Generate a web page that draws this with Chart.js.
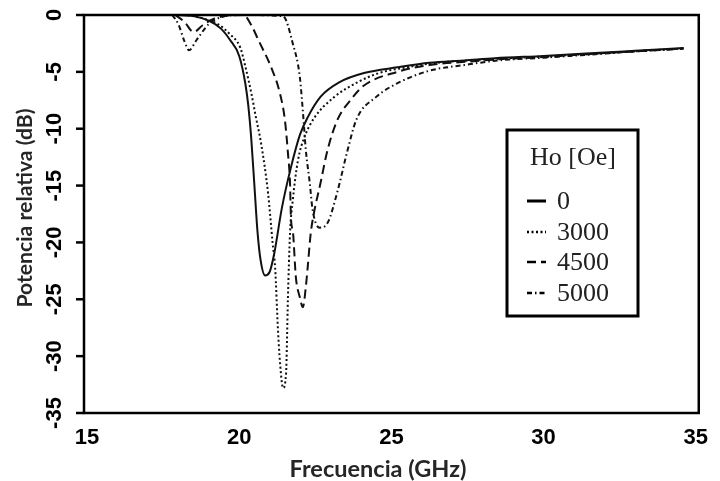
<!DOCTYPE html>
<html>
<head>
<meta charset="utf-8">
<script src="https://cdn.jsdelivr.net/npm/chart.js@4/dist/chart.umd.min.js"></script>
<style>
  html, body { margin: 0; padding: 0; background: #fff; }
  #wrap { width: 720px; height: 481px; }
</style>
</head>
<body>
<div id="wrap"><canvas id="chart" width="720" height="481"></canvas></div>
<script>
// data
const xTicks = [15, 20, 25, 30, 35]
const yTicks = [0, -5, -10, -15, -20, -25, -30, -35]
const seriesNames = ['0', '3000', '4500', '5000']
const legendTitle = 'Ho [Oe]'

const freq0 = [17.9, 18.5, 19.0, 19.4, 19.7, 20.0, 20.2, 20.3, 20.4, 20.5, 20.6, 20.7, 20.85, 21.0, 21.15, 21.4, 21.7, 22.0, 22.25, 22.67, 23.3, 24.1, 25.2, 26.25, 27.4, 28.4, 30, 31.7, 33, 34.6]
const pot0 = [0, -0.1, -0.5, -1.2, -2.2, -3.6, -6, -8, -11, -15, -19, -21.5, -22.9, -22.6, -21, -17, -13.4, -10.5, -9.0, -7.2, -5.9, -5.1, -4.6, -4.2, -4.0, -3.8, -3.6, -3.35, -3.15, -2.9]

const freq3000 = [18.3, 18.8, 19.3, 19.7, 20.04, 20.2, 20.4, 20.55, 20.72, 20.95, 21.1, 21.18, 21.28, 21.37, 21.44, 21.54, 21.6, 21.67, 21.76, 21.93, 22.15, 22.48, 23.13, 23.9, 24.6, 25.5, 26.5, 27.5, 28.5, 30, 31.7, 33, 34.6]
const pot3000 = [0, -0.3, -0.8, -1.7, -2.9, -4.5, -6.9, -9, -11.3, -15.7, -20.1, -22.2, -28, -31.5, -32.8, -31.5, -25, -19.2, -16.3, -12.8, -10.7, -9.0, -7.2, -5.9, -5.1, -4.6, -4.2, -4.0, -3.85, -3.65, -3.4, -3.2, -2.95]

const freq4500 = [17.9, 18.2, 18.5, 18.8, 19.2, 20.14, 20.4, 20.63, 21.05, 21.34, 21.5, 21.6, 21.67, 21.7, 21.77, 21.86, 21.99, 22.09, 22.19, 22.25, 22.35, 22.45, 22.67, 22.9, 23.23, 23.65, 24.1, 25.2, 26.25, 27.5, 28.5, 30, 31.7, 33, 34.6]
const pot4500 = [0, -0.6, -1.5, -0.9, -0.3, 0, -0.9, -2.2, -4.6, -6.9, -9.2, -12.1, -14.8, -17.8, -19.2, -23, -24.8, -25.7, -23.9, -22.2, -19.2, -17.5, -14.8, -11.9, -9.2, -7.5, -6.2, -5.0, -4.4, -4.1, -3.9, -3.7, -3.4, -3.2, -2.95]

const freq5000 = [17.8, 18.0, 18.2, 18.35, 18.6, 19.0, 19.4, 20.0, 21.44, 21.76, 21.99, 22.09, 22.19, 22.32, 22.41, 22.64, 22.9, 23.23, 23.55, 23.85, 24.5, 25.2, 26.25, 27.4, 28.5, 30, 31.7, 33, 34.6]
const pot5000 = [0, -0.8, -2.3, -3.1, -2.2, -0.8, -0.2, 0, -0.1, -2.5, -5.4, -8.4, -11.9, -14.8, -17.1, -18.7, -18.3, -15.5, -12, -9.2, -7.2, -6.0, -4.9, -4.4, -4.0, -3.75, -3.45, -3.2, -2.95]

const dashes = [[], [2, 2.5], [9, 5], [5, 3, 1.5, 3]]

const toPoints = (xs, ys) => xs.map((x, i) => ({ x: x, y: ys[i] }))

const makeSet = (name, xs, ys, dash) => ({
    label: name,
    data: toPoints(xs, ys),
    borderColor: '#111',
    borderWidth: 2,
    borderDash: dash,
    pointRadius: 0,
    fill: false,
    cubicInterpolationMode: 'monotone'
})

const datasets = [
    makeSet(seriesNames[0], freq0, pot0, dashes[0]),
    makeSet(seriesNames[1], freq3000, pot3000, dashes[1]),
    makeSet(seriesNames[2], freq4500, pot4500, dashes[2]),
    makeSet(seriesNames[3], freq5000, pot5000, dashes[3])
]

// pick a font size so the text spans about `width` pixels
const fitFont = (ctx, text, width, family) => {
    ctx.font = `bold 20px ${family}`
    const size = 20 * width / ctx.measureText(text).width
    ctx.font = `bold ${size.toFixed(1)}px ${family}`
}

// frame, rotated y labels, axis titles and the boxed legend
const extras = {
    id: 'extras',
    afterDraw(chart) {
        const ctx = chart.ctx
        const ys = chart.scales.y
        const area = chart.chartArea
        ctx.save()
        ctx.setLineDash([])
        ctx.strokeStyle = '#000'
        ctx.lineWidth = 2.5
        ctx.strokeRect(area.left - 3, area.top, area.right - area.left + 6, area.bottom - area.top)

        // y tick marks and labels, read bottom to top
        ctx.fillStyle = '#000'
        ctx.font = 'bold 22px "Liberation Sans"'
        ctx.textAlign = 'center'
        ctx.textBaseline = 'middle'
        yTicks.forEach(v => {
            const py = ys.getPixelForValue(v)
            ctx.beginPath()
            ctx.moveTo(area.left - 11, py)
            ctx.lineTo(area.left - 3, py)
            ctx.stroke()
            ctx.save()
            ctx.translate(54, py)
            ctx.rotate(-Math.PI / 2)
            ctx.fillText(String(v), 0, 1)
            ctx.restore()
        })

        // axis titles
        ctx.fillStyle = '#262626'
        ctx.textBaseline = 'alphabetic'
        fitFont(ctx, 'Frecuencia (GHz)', 177, 'Lato')
        ctx.fillText('Frecuencia (GHz)', 378, 477)
        ctx.save()
        ctx.translate(32, 208)
        ctx.rotate(-Math.PI / 2)
        fitFont(ctx, 'Potencia relativa (dB)', 199, 'Lato')
        ctx.fillText('Potencia relativa (dB)', 0, 0)
        ctx.restore()

        // legend box
        ctx.fillStyle = '#fff'
        ctx.fillRect(507, 130, 131, 186)
        ctx.lineWidth = 3
        ctx.strokeStyle = '#000'
        ctx.strokeRect(507, 130, 131, 186)
        ctx.fillStyle = '#222'
        ctx.font = '26px "Liberation Serif"'
        ctx.textAlign = 'left'
        ctx.textBaseline = 'middle'
        ctx.fillText(legendTitle, 530, 158)
        const rowY = [201, 232, 262, 293]
        seriesNames.forEach((name, i) => {
            ctx.beginPath()
            ctx.lineWidth = i === 0 ? 3 : 2.5
            ctx.setLineDash(dashes[i])
            ctx.moveTo(527, rowY[i])
            ctx.lineTo(546, rowY[i])
            ctx.stroke()
            ctx.setLineDash([])
            ctx.fillText(name, 557, rowY[i] + 1)
        })
        ctx.restore()
    }
}

new Chart(document.getElementById('chart'), {
    type: 'line',
    data: { datasets: datasets },
    options: {
        responsive: false,
        animation: false,
        layout: { padding: { top: 15, right: 18, left: 0, bottom: 0 } },
        plugins: { legend: { display: false }, tooltip: { enabled: false } },
        scales: {
            x: {
                type: 'linear',
                min: 15,
                max: 35,
                afterBuildTicks: s => { s.ticks = xTicks.map(v => ({ value: v })) },
                afterFit: s => { s.height = 68 },
                grid: { display: false, drawTicks: false },
                border: { display: false },
                ticks: {
                    color: '#000',
                    maxRotation: 0,
                    padding: 12,
                    font: { family: 'Liberation Sans', weight: 'bold', size: 22 }
                }
            },
            y: {
                type: 'linear',
                min: -35,
                max: 0,
                afterBuildTicks: s => { s.ticks = yTicks.map(v => ({ value: v })) },
                afterFit: s => { s.width = 87 },
                grid: { display: false, drawTicks: false },
                border: { display: false },
                ticks: { display: false }
            }
        }
    },
    plugins: [extras]
})
</script>
</body>
</html>
